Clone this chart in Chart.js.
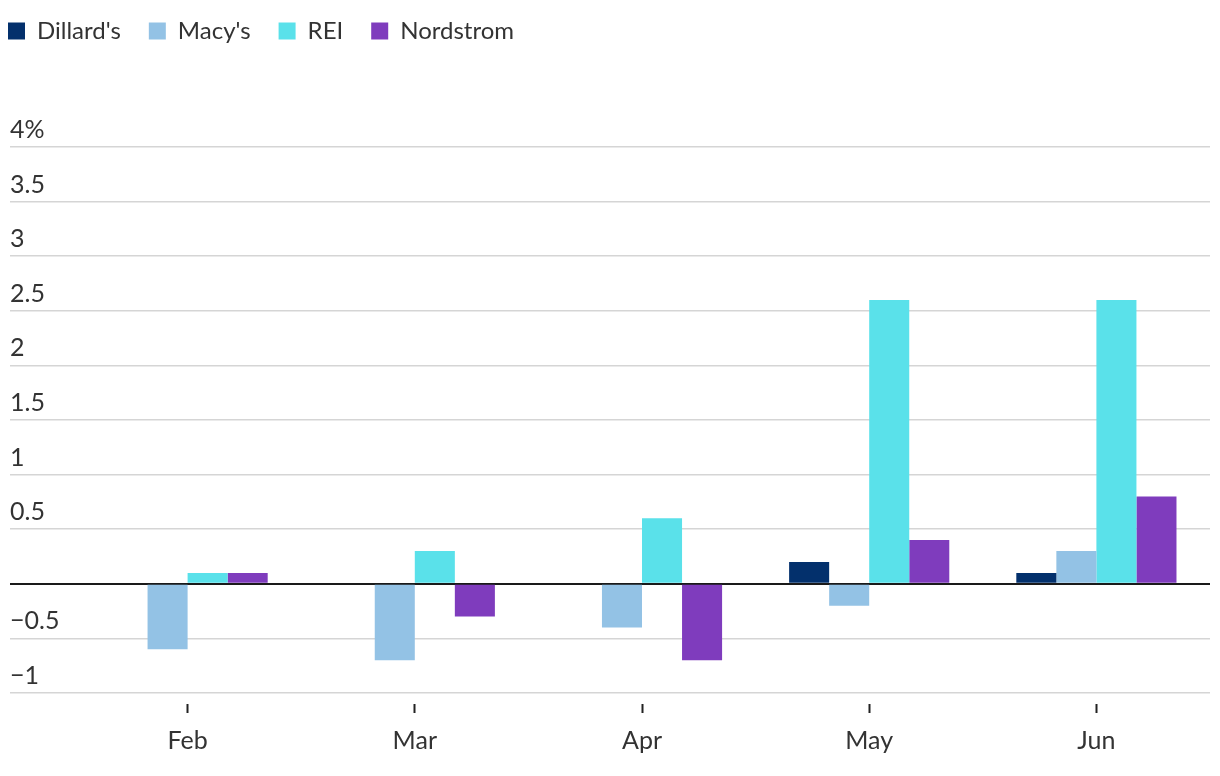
<!DOCTYPE html>
<html>
<head>
<meta charset="utf-8">
<script src="https://cdn.jsdelivr.net/npm/chart.js@4.4.1/dist/chart.umd.min.js"></script>
<style>
  html, body { margin: 0; padding: 0; background: #fff; }
  #wrap { width: 1220px; height: 776px; position: relative; }
</style>
</head>
<body>
<div id="wrap"><canvas id="chart"></canvas></div>
<script>
// data (percent)
const months = ['Feb', 'Mar', 'Apr', 'May', 'Jun'];
const dillards = [0, 0, 0, 0.2, 0.1];
const macys = [-0.6, -0.7, -0.4, -0.2, 0.3];
const rei = [0.1, 0.3, 0.6, 2.6, 2.6];
const nordstrom = [0.1, -0.3, -0.7, 0.4, 0.8];
const yMin = -1, yMax = 4, yStep = 0.5;

Chart.defaults.font.family = 'Lato, "Open Sans", sans-serif';
Chart.defaults.color = '#333';

const legendGap = 28;

// push the legend to the left edge and leave the gap above the plot
const legendSpacer = {
    id: 'legendSpacer',
    beforeInit(chart) {
        const fit = chart.legend.fit;
        chart.legend.fit = function () {
            fit.call(this);
            this.height = 147;
        };
    },
    afterLayout(chart) {
        chart.legend.left = 8 - legendGap;
        chart.legend.top = 31 - legendGap - 12;
    }
};

const fmt = v => {
    if (v === 0) return '';
    const s = Math.abs(v).toString();
    const t = v < 0 ? '\u2212' + s : s;
    return v === yMax ? t + '%' : t;
};

new Chart(document.getElementById('chart'), {
    type: 'bar',
    data: {
        labels: months,
        datasets: [
            { label: "Dillard's", data: dillards, backgroundColor: '#03306c' },
            { label: "Macy's", data: macys, backgroundColor: '#93c2e5' },
            { label: 'REI', data: rei, backgroundColor: '#5ae1ea' },
            { label: 'Nordstrom', data: nordstrom, backgroundColor: '#7f3cbd' }
        ]
    },
    options: {
        responsive: true,
        maintainAspectRatio: false,
        animation: false,
        layout: { padding: { left: 10, right: 10, top: 0, bottom: 7 } },
        datasets: { bar: { barPercentage: 1, categoryPercentage: 0.705, borderWidth: 0 } },
        plugins: {
            legend: {
                position: 'top',
                align: 'start',
                labels: {
                    boxWidth: 17,
                    boxHeight: 17,
                    padding: legendGap,
                    color: '#333',
                    font: { size: 24 }
                }
            },
            tooltip: { enabled: false }
        },
        scales: {
            x: {
                grid: {
                    drawOnChartArea: false,
                    drawTicks: true,
                    offset: false,
                    tickLength: 20,
                    tickWidth: 2,
                    tickColor: '#222',
                    tickBorderDash: [0, 11, 9, 0]
                },
                border: { display: false },
                ticks: { padding: 13, font: { size: 25 }, color: '#333' }
            },
            y: {
                min: yMin,
                max: yMax,
                afterFit(scale) { scale.width = 64; },
                grid: {
                    drawTicks: true,
                    tickLength: 64,
                    color: c => (c.tick && c.tick.value === 0 ? '#1a1a1a' : '#d5d5d5'),
                    lineWidth: c => (c.tick && c.tick.value === 0 ? 2 : 1.5)
                },
                border: { display: false },
                ticks: {
                    stepSize: yStep,
                    crossAlign: 'far',
                    labelOffset: -17,
                    font: { size: 25 },
                    color: '#333',
                    callback: v => fmt(v)
                }
            }
        }
    },
    plugins: [legendSpacer]
});
</script>
</body>
</html>
